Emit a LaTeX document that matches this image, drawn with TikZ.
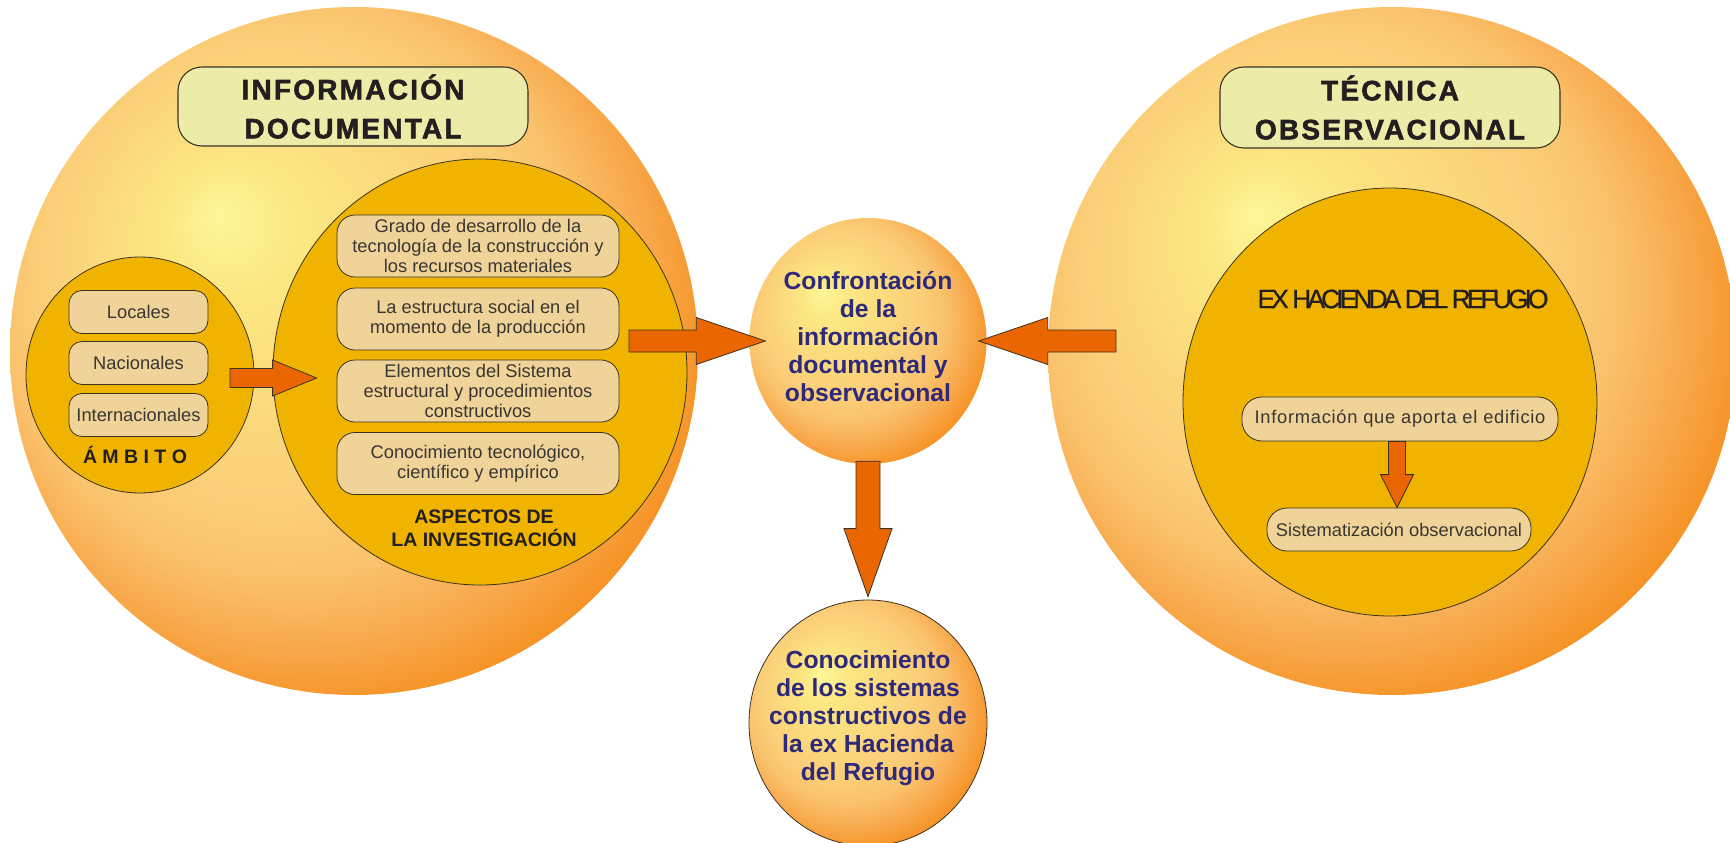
\documentclass[tikz,border=0pt]{standalone}
\usepackage{fontspec}
\setmainfont{Liberation Sans}
\usetikzlibrary{shapes.geometric,calc}
\definecolor{glowA}{RGB}{252,246,152}
\definecolor{glowB}{RGB}{251,231,130}
\definecolor{glowC}{RGB}{251,206,120}
\definecolor{glowD}{RGB}{250,194,108}
\definecolor{glowE}{RGB}{248,170,78}
\definecolor{glowF}{RGB}{246,146,36}
\definecolor{goldfill}{RGB}{240,180,0}
\definecolor{tanfill}{RGB}{239,211,152}
\definecolor{titlefill}{RGB}{236,236,168}
\definecolor{inkdark}{RGB}{35,31,32}
\definecolor{boxtext}{RGB}{58,54,50}
\definecolor{indigo}{RGB}{46,41,122}
\definecolor{arrowfill}{RGB}{234,102,0}
\definecolor{edgeline}{RGB}{60,50,35}
\pgfdeclareradialshading{glow}{\pgfpoint{-10bp}{10bp}}{color(0bp)=(glowA); color(5bp)=(glowB); color(17bp)=(glowC); color(21bp)=(glowD); color(25bp)=(glowE); color(29bp)=(glowF); color(40bp)=(glowF)}
\newcommand\titlefnt{\bfseries\fontsize{28}{39}\selectfont\addfontfeature{LetterSpace=8,FakeBold=2}}
\newcommand\boxfnt{\fontsize{18.3}{20}\selectfont}
\newcommand\bluefnt{\bfseries\fontsize{24.7}{28}\selectfont}
\newcommand\blockarrow[5]{%
  \path[arrowbody] let \p1=(#1), \p2=(#2), \p3=($(\p2)!#5!(\p1)$) in
    ($(\p1)!#3!90:(\p2)$) -- ($(\p3)!#3!90:(\p2)$) -- ($(\p3)!#4!90:(\p2)$) -- (\p2)
    -- ($(\p3)!#4!-90:(\p2)$) -- ($(\p3)!#3!-90:(\p2)$) -- ($(\p1)!#3!-90:(\p2)$) -- cycle;}
\begin{document}
\begin{tikzpicture}[x=1pt,y=-1pt,
  bigball/.style={ellipse, inner sep=0pt, shade, shading=glow, draw=none},
  innercirc/.style={ellipse, inner sep=0pt, fill=goldfill, draw=edgeline, line width=0.8pt},
  titlebox/.style={rectangle, rounded corners=24pt, fill=titlefill, draw=edgeline, line width=1.1pt, inner sep=0pt, align=center, text=inkdark, font=\titlefnt},
  tanbox/.style={rectangle, rounded corners=18pt, fill=tanfill, draw=edgeline, line width=0.8pt, inner sep=0pt, align=center, text=boxtext, font=\boxfnt},
  labeltext/.style={inner sep=0pt, align=center, text=inkdark, font=\bfseries\fontsize{19.5}{23}\selectfont},
  bluetext/.style={inner sep=0pt, align=center, text=indigo, font=\bluefnt},
  arrowbody/.style={draw=edgeline, fill=arrowfill, line width=0.8pt, line join=miter}]
\useasboundingbox (0,0) rectangle (1730,843);
\clip (0,0) rectangle (1730,843);

% left big circle
\node[bigball, minimum width=688, minimum height=688] (infdoc) at (354,351) {};
\node[titlebox, minimum width=350, minimum height=79] (t1) at (353,106.5) {INFORMACIÓN\\DOCUMENTAL};
\node[innercirc, minimum width=228, minimum height=236] (amb) at (140,375) {};
\node[tanbox, rounded corners=13pt, minimum width=139, minimum height=43] (loc) at (138.5,312) {Locales};
\node[tanbox, rounded corners=13pt, minimum width=139, minimum height=43] (nac) at (138.5,363) {Nacionales};
\node[tanbox, rounded corners=13pt, minimum width=139, minimum height=43] (int) at (138.5,415) {Internacionales};
\node[labeltext] (ambl) at (135,455) {Á M B I T O};

\node[innercirc, minimum width=414, minimum height=426] (asp) at (480,372) {};
\node[tanbox, minimum width=282, minimum height=62] (b1) at (478,246) {Grado de desarrollo de la\\tecnología de la construcción y\\los recursos materiales};
\node[tanbox, minimum width=282, minimum height=62] (b2) at (478,319) {La estructura social en el\\momento de la producción};
\node[tanbox, minimum width=282, minimum height=62] (b3) at (478,391) {Elementos del Sistema\\estructural y procedimientos\\constructivos};
\node[tanbox, minimum width=282, minimum height=62] (b4) at (478,463.5) {Conocimiento tecnológico,\\científico y empírico};
\node[labeltext] (aspl) at (484,528.5) {ASPECTOS DE\\LA INVESTIGACIÓN};

% centre circles
\node[bigball, minimum width=237, minimum height=246] (conf) at (868,341) {};
\node[bluetext] (conftext) at (868,337) {Confrontación\\de la\\información\\documental y\\observacional};
\node[bigball, draw=edgeline, line width=0.8pt, minimum width=238, minimum height=246] (conoc) at (868,723) {};
\node[bluetext] (conoctext) at (868,718) {Conocimiento\\de los sistemas\\constructivos de\\la ex Hacienda\\del Refugio};

% right big circle
\node[bigball, minimum width=688, minimum height=688] (tecobs) at (1392,351) {};
\node[titlebox, minimum width=340, minimum height=81] (t2) at (1390,107.5) {TÉCNICA\\OBSERVACIONAL};
\node[innercirc, minimum width=414, minimum height=428] (hac) at (1390,402) {};
\node[inner sep=0pt, text=inkdark, font=\fontsize{26.5}{30}\selectfont\addfontfeature{LetterSpace=-15,FakeBold=0.6}] (hactext) at (1403,299) {EX HACIENDA DEL REFUGIO};
\node[tanbox, rounded corners=20pt, minimum width=316, minimum height=44, font=\boxfnt\addfontfeature{LetterSpace=4}] (info) at (1400,419) {Información que aporta el edificio};
\node[tanbox, rounded corners=20pt, minimum width=264, minimum height=43] (sist) at (1399,529.5) {Sistematización observacional};

% arrows
\coordinate (a1s) at (629,341);
\coordinate (a1e) at ($(conf.west)+(16,0)$);
\coordinate (a2s) at (1116,341);
\coordinate (a2e) at ($(conf.east)+(-8,0)$);
\coordinate (a3s) at ($(conf.south)+(0,-3)$);
\coordinate (a3e) at ($(conoc.north)+(0,-3)$);
\coordinate (a4s) at (230,378);
\coordinate (a4e) at ($(asp.west)+(44,6)$);
\coordinate (a5s) at ($(info.south)+(-3,0)$);
\coordinate (a5e) at ($(sist.north)+(-2,0)$);
\blockarrow{a1s}{a1e}{11pt}{23.5pt}{69pt}
\blockarrow{a2s}{a2e}{11pt}{23.5pt}{69pt}
\blockarrow{a3s}{a3e}{12pt}{24pt}{68pt}
\blockarrow{a4s}{a4e}{9.5pt}{18pt}{44pt}
\blockarrow{a5s}{a5e}{8.5pt}{16.5pt}{33pt}
\end{tikzpicture}
\end{document}
